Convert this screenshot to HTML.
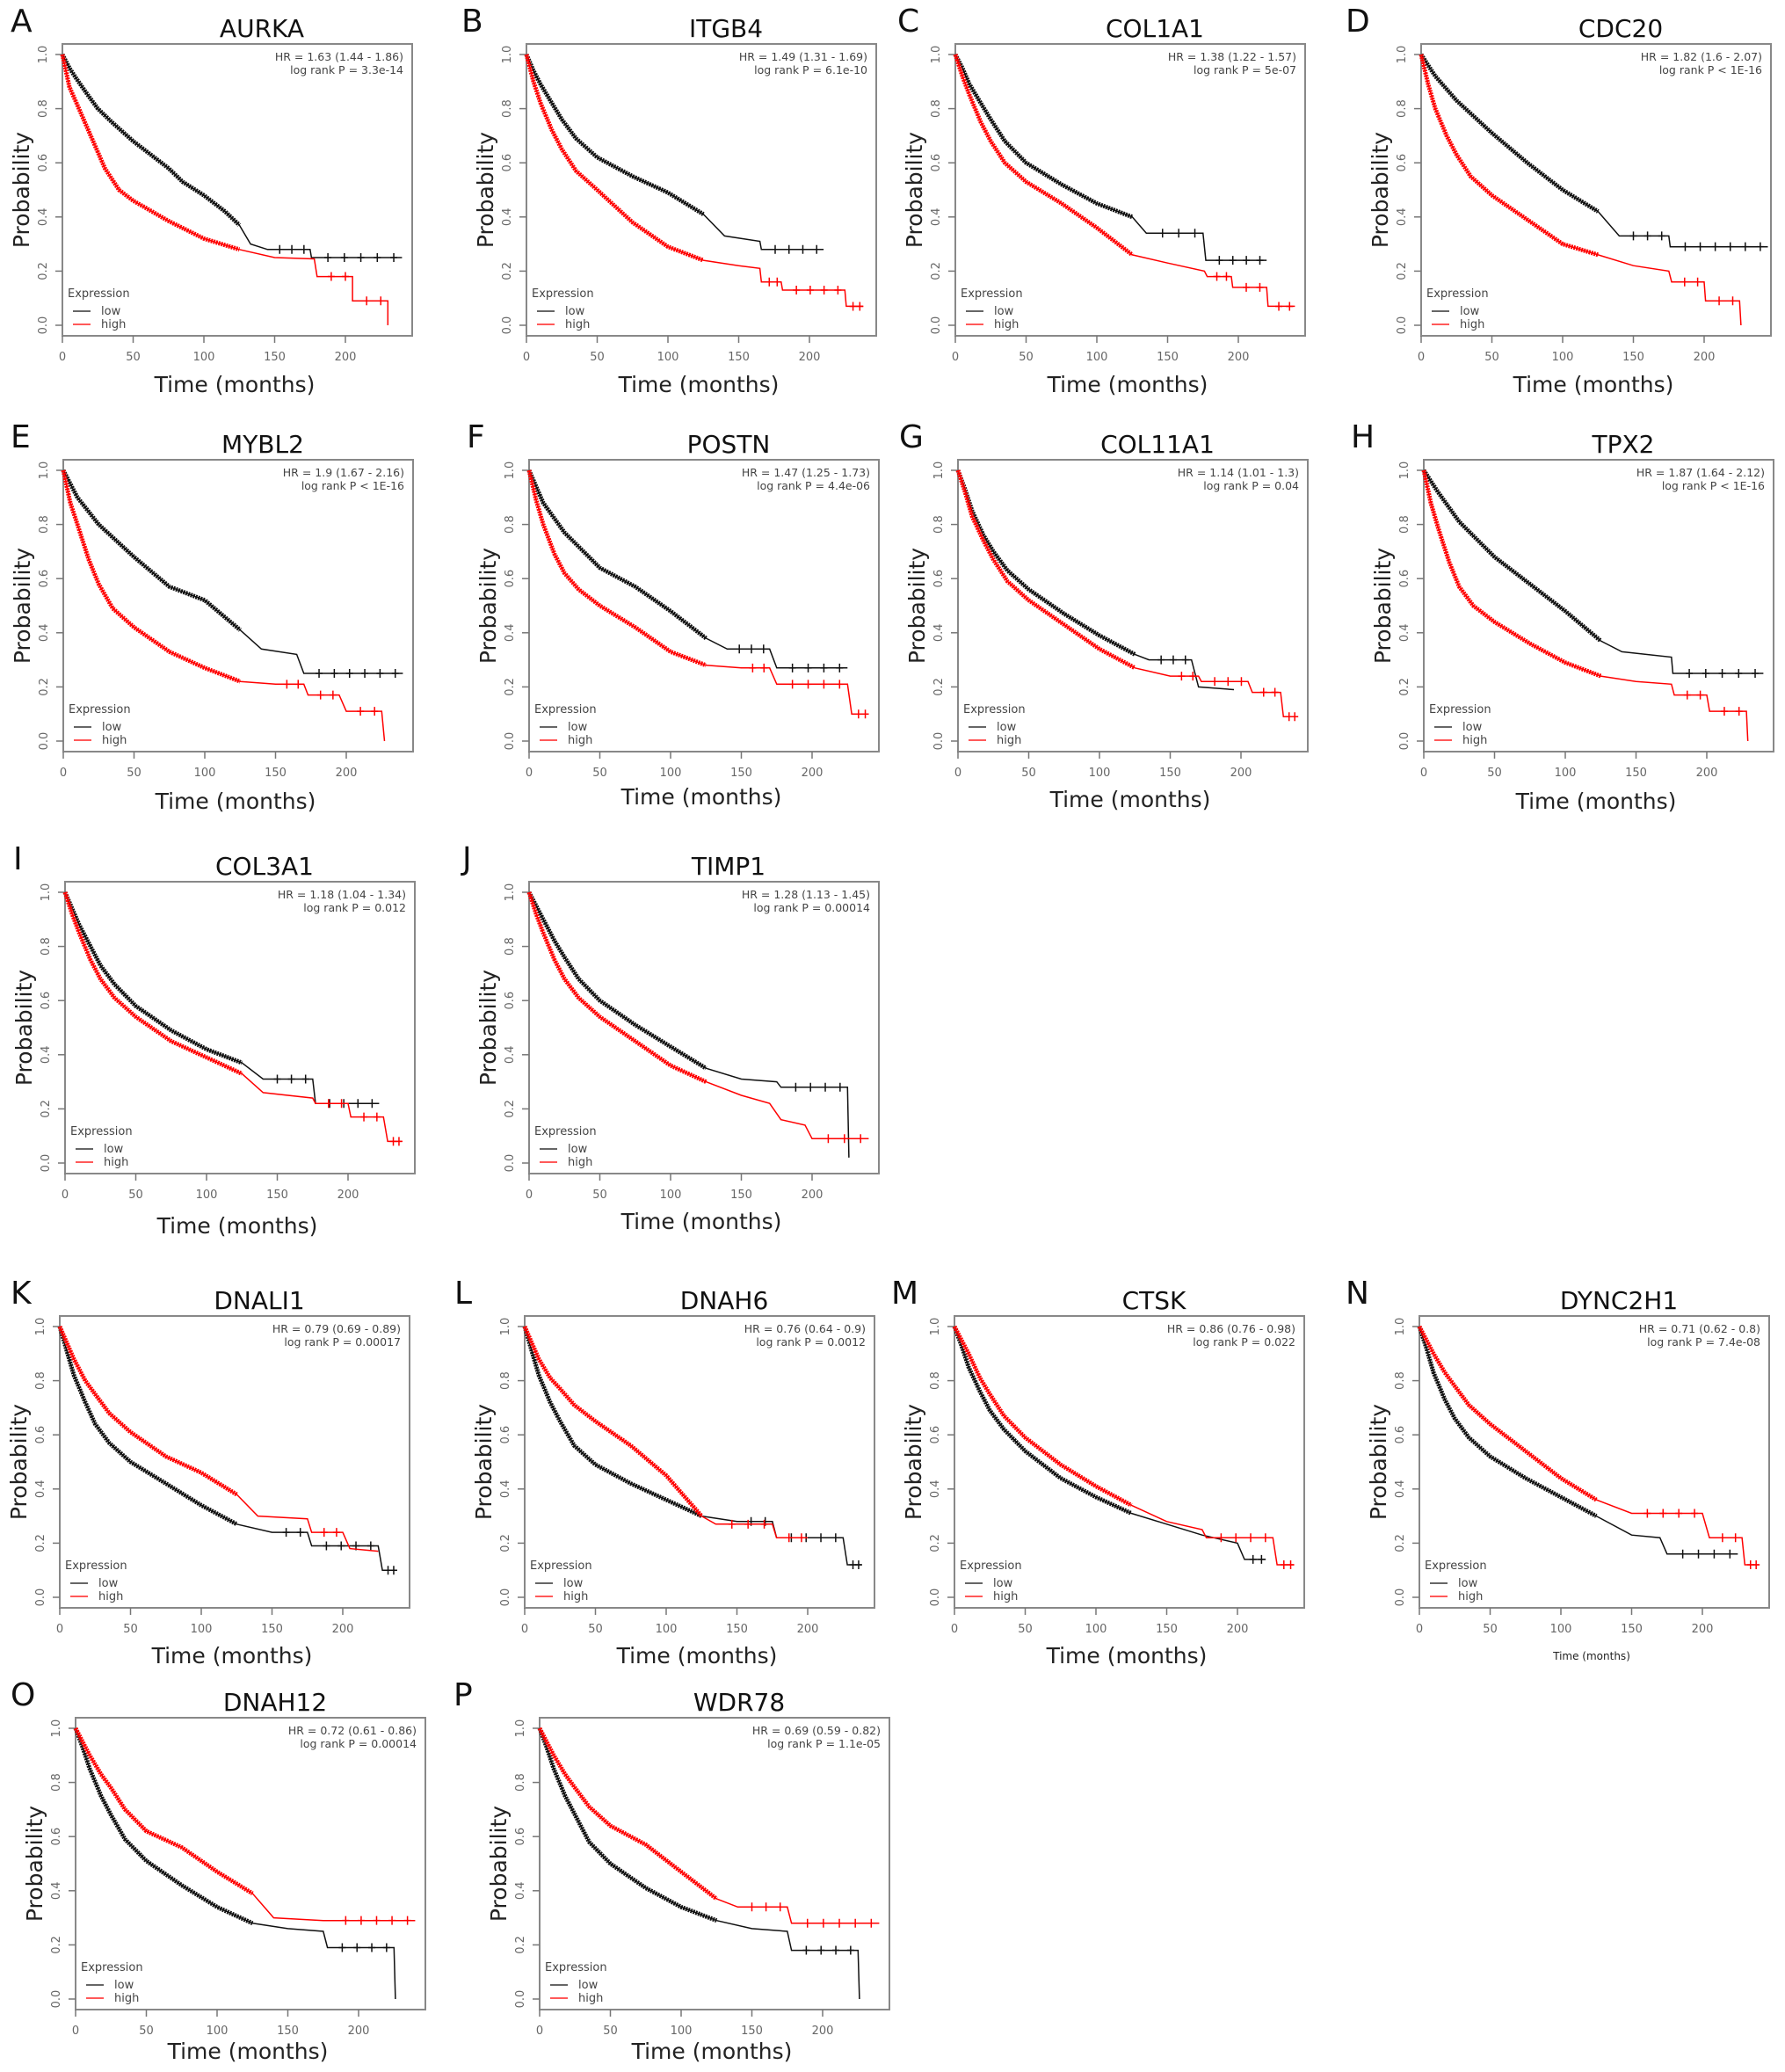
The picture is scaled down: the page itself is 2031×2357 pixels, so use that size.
<!DOCTYPE html>
<html><head><meta charset="utf-8">
<style>
html,body{margin:0;padding:0;background:#fff;}
svg{display:block;font-family:"DejaVu Sans","Liberation Sans",sans-serif;}
</style></head>
<body>
<svg id="fig" width="2031" height="2357" viewBox="0 0 2031 2357" xmlns="http://www.w3.org/2000/svg"></svg>
<script>
const panelLetters = ["A","B","C","D","E","F","G","H","I","J","K","L","M","N","O","P"];
const genes = ["AURKA","ITGB4","COL1A1","CDC20","MYBL2","POSTN","COL11A1","TPX2","COL3A1","TIMP1","DNALI1","DNAH6","CTSK","DYNC2H1","DNAH12","WDR78"];
const hrText = ["HR = 1.63 (1.44 - 1.86)","HR = 1.49 (1.31 - 1.69)","HR = 1.38 (1.22 - 1.57)","HR = 1.82 (1.6 - 2.07)","HR = 1.9 (1.67 - 2.16)","HR = 1.47 (1.25 - 1.73)","HR = 1.14 (1.01 - 1.3)","HR = 1.87 (1.64 - 2.12)","HR = 1.18 (1.04 - 1.34)","HR = 1.28 (1.13 - 1.45)","HR = 0.79 (0.69 - 0.89)","HR = 0.76 (0.64 - 0.9)","HR = 0.86 (0.76 - 0.98)","HR = 0.71 (0.62 - 0.8)","HR = 0.72 (0.61 - 0.86)","HR = 0.69 (0.59 - 0.82)"];
const pText = ["log rank P = 3.3e-14","log rank P = 6.1e-10","log rank P = 5e-07","log rank P < 1E-16","log rank P < 1E-16","log rank P = 4.4e-06","log rank P = 0.04","log rank P < 1E-16","log rank P = 0.012","log rank P = 0.00014","log rank P = 0.00017","log rank P = 0.0012","log rank P = 0.022","log rank P = 7.4e-08","log rank P = 0.00014","log rank P = 1.1e-05"];
const xTicks = [0,50,100,150,200];
const yTicks = [0,0.2,0.4,0.6,0.8,1.0];
const yTickLabels = ["0.0","0.2","0.4","0.6","0.8","1.0"];
// survival curves: [time(months), probability]
const lowCurves = [
 [[0,1],[5,.95],[10,.91],[18,.85],[25,.80],[35,.75],[50,.68],[75,.58],[85,.53],[100,.48],[115,.42],[125,.37],[133,.30],[145,.28],[175,.28],[176,.25],[240,.25]],
 [[0,1],[5,.94],[10,.89],[18,.82],[25,.76],[35,.69],[50,.62],[75,.55],[100,.49],[125,.41],[140,.33],[165,.31],[166,.28],[210,.28]],
 [[0,1],[5,.95],[10,.89],[18,.82],[25,.76],[35,.68],[50,.6],[75,.52],[100,.45],[125,.40],[135,.34],[175,.34],[177,.24],[220,.24]],
 [[0,1],[5,.96],[10,.92],[25,.83],[50,.71],[75,.6],[100,.5],[125,.42],[140,.33],[175,.33],[176,.29],[245,.29]],
 [[0,1],[5,.95],[10,.9],[25,.8],[50,.68],[75,.57],[100,.52],[125,.41],[140,.34],[165,.32],[170,.25],[240,.25]],
 [[0,1],[5,.94],[10,.88],[25,.77],[50,.64],[75,.57],[100,.48],[125,.38],[140,.34],[170,.34],[175,.27],[225,.27]],
 [[0,1],[5,.93],[10,.85],[18,.76],[25,.7],[35,.63],[50,.56],[75,.47],[100,.39],[125,.32],[135,.3],[165,.3],[170,.2],[195,.19]],
 [[0,1],[5,.96],[10,.92],[25,.81],[50,.68],[75,.58],[100,.48],[125,.37],[140,.33],[175,.31],[176,.25],[240,.25]],
 [[0,1],[5,.94],[10,.88],[18,.8],[25,.73],[35,.66],[50,.58],[75,.49],[100,.42],[125,.37],[140,.31],[175,.31],[177,.22],[222,.22]],
 [[0,1],[5,.95],[10,.9],[18,.82],[25,.76],[35,.68],[50,.6],[75,.51],[100,.43],[125,.35],[150,.31],[175,.3],[178,.28],[225,.28],[226,.02]],
 [[0,1],[5,.91],[10,.82],[18,.72],[25,.64],[35,.57],[50,.5],[75,.42],[100,.34],[125,.27],[150,.24],[175,.24],[178,.19],[225,.19],[228,.1],[238,.1]],
 [[0,1],[5,.91],[10,.82],[18,.72],[25,.65],[35,.56],[50,.49],[75,.42],[100,.36],[125,.3],[150,.28],[175,.28],[178,.22],[225,.22],[228,.12],[238,.12]],
 [[0,1],[5,.93],[10,.85],[18,.76],[25,.69],[35,.62],[50,.54],[75,.44],[100,.37],[125,.31],[150,.27],[175,.23],[200,.2],[205,.14],[220,.14]],
 [[0,1],[5,.92],[10,.83],[18,.73],[25,.66],[35,.59],[50,.52],[75,.44],[100,.37],[125,.3],[150,.23],[170,.22],[175,.16],[225,.16]],
 [[0,1],[5,.93],[10,.85],[18,.75],[25,.68],[35,.59],[50,.51],[75,.42],[100,.34],[125,.28],[150,.26],[175,.25],[178,.19],[225,.19],[226,0]],
 [[0,1],[5,.93],[10,.85],[18,.75],[25,.68],[35,.58],[50,.5],[75,.41],[100,.34],[125,.29],[150,.26],[175,.25],[178,.18],[225,.18],[226,0]]
];
const highCurves = [
 [[0,1],[5,.88],[10,.82],[20,.70],[30,.58],[40,.50],[50,.46],[75,.385],[100,.32],[125,.28],[150,.25],[178,.245],[180,.18],[205,.18],[205,.09],[230,.09],[230,0]],
 [[0,1],[5,.9],[10,.82],[18,.72],[25,.65],[35,.57],[50,.5],[75,.38],[100,.29],[125,.24],[150,.22],[165,.21],[166,.16],[180,.16],[181,.13],[225,.13],[226,.07],[238,.07]],
 [[0,1],[5,.92],[10,.85],[18,.75],[25,.68],[35,.6],[50,.53],[75,.45],[100,.36],[125,.26],[150,.23],[176,.20],[178,.18],[195,.18],[196,.14],[220,.14],[221,.07],[240,.07]],
 [[0,1],[5,.89],[10,.8],[18,.7],[25,.63],[35,.55],[50,.48],[75,.39],[100,.3],[125,.26],[150,.22],[175,.2],[177,.16],[200,.16],[201,.09],[225,.09],[226,0]],
 [[0,1],[5,.88],[10,.8],[18,.67],[25,.58],[35,.49],[50,.42],[75,.33],[100,.27],[125,.22],[150,.21],[170,.21],[173,.17],[195,.17],[200,.11],[225,.11],[227,0]],
 [[0,1],[5,.89],[10,.8],[18,.69],[25,.62],[35,.56],[50,.5],[75,.42],[100,.33],[125,.28],[150,.27],[170,.27],[175,.21],[225,.21],[228,.1],[240,.1]],
 [[0,1],[5,.92],[10,.83],[18,.74],[25,.67],[35,.59],[50,.52],[75,.43],[100,.34],[125,.27],[150,.24],[170,.24],[172,.22],[205,.22],[208,.18],[228,.18],[230,.09],[240,.09]],
 [[0,1],[5,.88],[10,.79],[18,.66],[25,.57],[35,.5],[50,.44],[75,.36],[100,.29],[125,.24],[150,.22],[175,.21],[177,.17],[200,.17],[202,.11],[228,.11],[229,0]],
 [[0,1],[5,.92],[10,.85],[18,.75],[25,.68],[35,.61],[50,.54],[75,.45],[100,.39],[125,.33],[140,.26],[175,.24],[177,.22],[200,.22],[202,.17],[225,.17],[228,.08],[238,.08]],
 [[0,1],[5,.92],[10,.85],[18,.75],[25,.68],[35,.61],[50,.54],[75,.45],[100,.36],[125,.3],[150,.25],[170,.22],[178,.16],[195,.14],[200,.09],[240,.09]],
 [[0,1],[5,.94],[10,.88],[18,.8],[25,.75],[35,.68],[50,.61],[75,.52],[100,.46],[125,.38],[140,.3],[175,.29],[178,.24],[200,.24],[205,.18],[225,.17]],
 [[0,1],[5,.94],[10,.88],[18,.81],[25,.77],[35,.71],[50,.65],[75,.56],[100,.45],[115,.36],[125,.3],[135,.27],[175,.27],[178,.22],[200,.22]],
 [[0,1],[5,.95],[10,.9],[18,.81],[25,.75],[35,.67],[50,.59],[75,.49],[100,.41],[125,.34],[150,.28],[175,.25],[178,.22],[225,.22],[228,.12],[240,.12]],
 [[0,1],[5,.95],[10,.9],[18,.83],[25,.78],[35,.71],[50,.64],[75,.54],[100,.44],[125,.36],[150,.31],[200,.31],[205,.22],[228,.22],[230,.12],[240,.12]],
 [[0,1],[5,.95],[10,.9],[18,.83],[25,.78],[35,.7],[50,.62],[75,.56],[100,.47],[125,.39],[140,.3],[175,.29],[180,.29],[240,.29]],
 [[0,1],[5,.95],[10,.9],[18,.83],[25,.78],[35,.71],[50,.64],[75,.57],[100,.47],[125,.37],[140,.34],[175,.34],[178,.28],[240,.28]]
];
// layout: box left/top per panel, letter x, xlabel y
const boxL=[71,599,1087,1617,72,602,1090,1620,74,602,68,597,1086,1615,86,614];
const boxT=[50,50,50,50,523,523,523,523,1003,1003,1497,1497,1497,1497,1954,1954];
const letX=[12,525,1021,1531,12,531,1023,1537,15,526,12,517,1014,1531,12,516];
const xlabY=[446,446,446,446,920,915,918,920,1403,1398,1892,1892,1892,1888,2342,2342];
const W=398,H=332;
const NS="http://www.w3.org/2000/svg";
const svg=document.getElementById('fig');
function mk(tag,attrs,parent,text){const e=document.createElementNS(NS,tag);for(const k in attrs)e.setAttribute(k,attrs[k]);if(text!==undefined)e.textContent=text;parent.appendChild(e);return e;}

for(let i=0;i<16;i++){
  const L=boxL[i],T=boxT[i];
  const sx=t=>L+t*322/200;
  const sy=p=>(T+H-12)-p*(H-24);
  const g=mk('g',{},svg);
  
  
  const let_=mk('text',{x:letX[i],y:T-14,'font-size':36,fill:'#111'},g,panelLetters[i]);
  
  
  const ti=mk('text',{x:L+W/2+28,y:T-8,'font-size':28,'text-anchor':'middle',fill:'#111'},g,genes[i]);
  
  
  const box=mk('rect',{x:L,y:T,width:W,height:H,fill:'none',stroke:'#888','stroke-width':2},g);
  
  
  yTicks.forEach((v,k)=>{
    const y=sy(v);
    const tk=mk('line',{x1:L,x2:L-8,y1:y,y2:y,stroke:'#777','stroke-width':1.5},g);
    
    
    const tl=mk('text',{x:0,y:0,'font-size':13,fill:'#666','text-anchor':'middle',transform:`translate(${L-18},${y}) rotate(-90)`},g,yTickLabels[k]);
    
    
  });
  xTicks.forEach(v=>{
    const x=sx(v);
    const tk=mk('line',{x1:x,x2:x,y1:T+H,y2:T+H+8,stroke:'#777','stroke-width':1.5},g);
    
    
    const tl=mk('text',{x:x,y:T+H+28,'font-size':13,fill:'#666','text-anchor':'middle'},g,String(v));
    
    
  });
  const yl=mk('text',{x:0,y:0,'font-size':25,fill:'#222','text-anchor':'middle',transform:`translate(${L-38},${T+H/2}) rotate(-90)`},g,'Probability');
  
  
  const xl=mk('text',{x:L+W/2-3,y:xlabY[i],'font-size':i===13?12:25,fill:'#222','text-anchor':'middle'},g,'Time (months)');
  
  
  const h1=mk('text',{x:L+W-10,y:T+19,'font-size':12.5,fill:'#444','text-anchor':'end'},g,hrText[i]);
  
  
  const h2=mk('text',{x:L+W-10,y:T+34,'font-size':12.5,fill:'#444','text-anchor':'end'},g,pText[i]);
  
  
  const lg=mk('g',{},g);
  
  
  mk('text',{x:L+6,y:T+H-44,'font-size':13,fill:'#444'},lg,'Expression');
  mk('line',{x1:L+12,x2:L+32,y1:T+H-28,y2:T+H-28,stroke:'#333','stroke-width':1.5},lg);
  mk('text',{x:L+44,y:T+H-24,'font-size':13,fill:'#444'},lg,'low');
  mk('line',{x1:L+12,x2:L+32,y1:T+H-13,y2:T+H-13,stroke:'#f22','stroke-width':1.5},lg);
  mk('text',{x:L+44,y:T+H-9,'font-size':13,fill:'#444'},lg,'high');
  [[lowCurves[i],'#111','low'],[highCurves[i],'#f00','high']].forEach(([pts,col,nm])=>{
    const d=pts.map((p,k)=>(k?'L':'M')+sx(p[0]).toFixed(1)+' '+sy(p[1]).toFixed(1)).join(' ');
    const pl=mk('path',{d:d,fill:'none',stroke:col,'stroke-width':1.5},g);
    
    
    const dense=pts.filter(p=>p[0]<=130);
    const d2=dense.map((p,k)=>(k?'L':'M')+sx(p[0]).toFixed(1)+' '+sy(p[1]).toFixed(1)).join(' ');
    const th=mk('path',{d:d2,fill:'none',stroke:col,'stroke-width':5,'stroke-dasharray':'2 1'},g);
    
    
    for(let k=0;k+1<pts.length;k++){
      const a=pts[k],b=pts[k+1];
      if(a[0]>=120 && a[1]===b[1] && b[0]-a[0]>=8){
        const n=Math.max(2,Math.round((b[0]-a[0])/12));
        for(let j=1;j<=n;j++){
          const t=a[0]+(b[0]-a[0])*j/(n+0.5);
          const x=sx(t),y=sy(a[1]);
          const cm=mk('path',{d:`M${x-4} ${y} L${x+4} ${y} M${x} ${y-5} L${x} ${y+5}`,stroke:col,'stroke-width':1.5,fill:'none'},g);
          
          
        }
      }
    }
  });
}
</script>
</body></html>
